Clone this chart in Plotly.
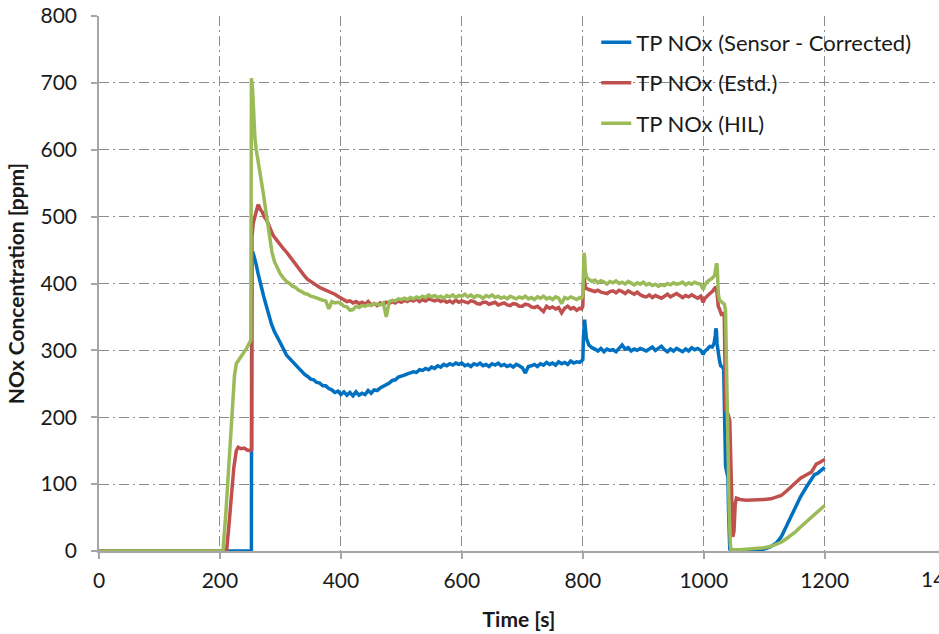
import plotly.graph_objects as go

# ---- measured tailpipe NOx traces: (time [s], NOx [ppm]) ----
# steady-state stretch sampled every 5 s from 300 s to 795 s
MID_T = list(range(300, 800, 5))

SENSOR_START = [(0, 0), (252, 0), (252.5, 440), (254, 448), (256, 442), (258, 436), (260, 428),
                (263, 415), (266, 402), (269, 393), (272, 382), (275, 372), (278, 362), (281, 352),
                (285, 340), (290, 328), (295, 318)]
SENSOR_MID = [311, 302, 293, 288, 283, 279, 273, 269, 264, 261,
              257, 256, 252, 251, 247, 247, 243, 241, 237, 239,
              234, 238, 233, 237, 232, 238, 233, 236, 234, 240,
              236, 241, 240, 244, 246, 249, 251, 255, 256, 260,
              261, 263, 265, 266, 268, 267, 271, 270, 273, 271,
              275, 273, 277, 275, 279, 277, 280, 278, 281, 279,
              281, 277, 279, 276, 280, 278, 281, 277, 279, 276,
              280, 278, 281, 277, 279, 276, 278, 275, 279, 277,
              274, 266, 276, 277, 279, 276, 280, 278, 282, 279,
              281, 278, 283, 280, 282, 279, 284, 281, 283, 282]
SENSOR_END = [(798, 284), (800, 286), (801, 318), (802, 338), (803, 346), (804, 336), (806, 318),
              (810, 308), (815, 304), (820, 302), (825, 299), (830, 303), (835, 298), (840, 302),
              (845, 300), (850, 301), (855, 298), (860, 303), (865, 308), (870, 302), (875, 304),
              (880, 299), (885, 302), (890, 300), (895, 303), (900, 301), (905, 299), (910, 302),
              (915, 305), (920, 300), (925, 303), (930, 306), (935, 301), (940, 298), (945, 302),
              (950, 299), (955, 303), (960, 300), (965, 298), (970, 302), (975, 299), (980, 304),
              (985, 301), (990, 303), (995, 300), (999, 294), (1002, 299), (1006, 302), (1010, 306),
              (1014, 305), (1017, 310), (1019, 322), (1020, 333), (1021, 329), (1022, 310),
              (1024, 291), (1026, 285), (1028, 277), (1031, 275), (1033, 272), (1034, 225),
              (1035, 170), (1036, 128), (1038, 118), (1040, 110), (1041, 60), (1042, 20), (1043, 3),
              (1045, 0), (1080, 0), (1090, 1), (1100, 3), (1110, 6), (1120, 12), (1128, 21),
              (1136, 36), (1144, 51), (1152, 66), (1160, 81), (1170, 96), (1178, 106), (1183, 114),
              (1188, 116), (1194, 121), (1200, 125)]

ESTD_START = [(0, 0), (211, 0), (215, 40), (219, 91), (223, 125), (227, 150), (230, 155), (235, 153),
              (240, 154), (245, 151), (250, 150), (252.5, 152), (253, 470), (255, 490), (258, 500),
              (261, 512), (263, 518), (265, 515), (267, 510), (270, 507), (273, 500), (277, 495),
              (280, 488), (284, 479), (288, 472), (292, 467), (296, 462)]
ESTD_MID = [458, 452, 447, 441, 434, 428, 421, 416, 411, 406,
            403, 399, 397, 394, 392, 390, 389, 386, 384, 381,
            378, 375, 373, 374, 371, 373, 370, 372, 369, 373,
            368, 370, 367, 371, 369, 372, 370, 373, 371, 374,
            372, 375, 373, 376, 374, 377, 373, 376, 374, 377,
            375, 374, 376, 373, 375, 372, 374, 371, 375, 372,
            374, 372, 371, 374, 373, 370, 369, 372, 372, 369,
            370, 372, 368, 370, 371, 368, 367, 370, 369, 366,
            366, 369, 368, 365, 364, 366, 362, 358, 366, 363,
            365, 362, 364, 356, 363, 366, 362, 364, 360, 363]
ESTD_END = [(798, 362), (800, 366), (801, 398), (802, 410), (803, 402), (805, 393), (810, 391),
            (815, 390), (820, 388), (825, 390), (830, 387), (835, 386), (840, 385), (845, 388),
            (850, 389), (855, 386), (860, 390), (865, 388), (870, 385), (875, 389), (880, 386),
            (885, 384), (890, 387), (895, 383), (900, 381), (905, 380), (910, 383), (915, 379),
            (920, 382), (925, 380), (930, 378), (935, 381), (940, 384), (945, 380), (950, 383),
            (955, 385), (960, 382), (965, 379), (970, 382), (975, 380), (980, 383), (985, 380),
            (990, 378), (995, 381), (999, 372), (1002, 378), (1006, 382), (1010, 385), (1014, 388),
            (1018, 392), (1020, 395), (1022, 385), (1024, 366), (1026, 362), (1029, 354),
            (1032, 355), (1034, 350), (1035, 280), (1036, 212), (1038, 208), (1040, 205),
            (1043, 195), (1045, 110), (1047, 40), (1048, 21), (1050, 30), (1052, 70), (1054, 79),
            (1060, 77), (1070, 76), (1080, 76), (1090, 77), (1100, 77), (1111, 78), (1120, 80),
            (1128, 83), (1136, 89), (1144, 96), (1152, 103), (1160, 109), (1170, 114), (1178, 118),
            (1182, 124), (1186, 130), (1193, 133), (1200, 137)]

HIL_START = [(0, 0), (205, 0), (210, 60), (215, 140), (220, 200), (224, 262), (227, 280), (232, 288),
             (238, 295), (244, 303), (249, 310), (251, 315), (252, 707), (253, 700), (254, 690),
             (255, 670), (256, 645), (257, 628), (258, 615), (260, 600), (262, 590), (264, 578),
             (266, 568), (268, 556), (270, 545), (272, 533), (274, 520), (276, 508), (278, 495),
             (280, 482), (283, 463), (286, 447), (290, 433), (294, 425), (298, 417)]
HIL_MID = [414, 408, 403, 400, 396, 394, 390, 388, 385, 384,
           381, 380, 378, 377, 375, 374, 362, 373, 371, 372,
           370, 366, 365, 360, 361, 366, 364, 367, 366, 368,
           367, 370, 369, 368, 371, 350, 373, 375, 374, 377,
           376, 378, 376, 379, 377, 380, 378, 381, 379, 383,
           380, 382, 379, 381, 378, 382, 380, 383, 379, 382,
           381, 384, 380, 383, 379, 382, 381, 378, 382, 380,
           383, 379, 381, 378, 380, 377, 381, 379, 377, 380,
           378, 381, 377, 379, 376, 380, 378, 381, 377, 379,
           376, 380, 378, 370, 379, 377, 380, 378, 376, 379]
HIL_END = [(798, 378), (800, 381), (801, 425), (802, 446), (803, 440), (804, 420), (806, 410),
           (810, 406), (815, 403), (820, 405), (825, 401), (830, 404), (835, 402), (840, 399),
           (845, 403), (850, 401), (855, 404), (860, 400), (865, 402), (870, 399), (875, 403),
           (880, 400), (885, 398), (890, 401), (895, 399), (900, 402), (905, 398), (910, 400),
           (915, 397), (920, 399), (925, 396), (930, 398), (935, 397), (940, 400), (945, 398),
           (950, 401), (955, 399), (960, 400), (965, 402), (970, 398), (975, 401), (980, 399),
           (985, 402), (990, 400), (995, 399), (999, 391), (1002, 398), (1006, 403), (1010, 405),
           (1014, 408), (1018, 412), (1020, 422), (1021, 430), (1022, 428), (1023, 410),
           (1024, 385), (1026, 375), (1030, 372), (1034, 369), (1036, 360), (1038, 250),
           (1040, 150), (1042, 60), (1044, 10), (1045, 2), (1060, 2), (1080, 3), (1100, 5),
           (1111, 7), (1120, 10), (1128, 13), (1136, 18), (1144, 23), (1152, 29), (1160, 36),
           (1170, 44), (1178, 51), (1186, 57), (1194, 63), (1200, 68)]

SERIES = [
    ("TP NOx (Sensor - Corrected)", "#0070C0", SENSOR_START, SENSOR_MID, SENSOR_END),
    ("TP NOx (Estd.)", "#C0504D", ESTD_START, ESTD_MID, ESTD_END),
    ("TP NOx (HIL)", "#9BBB59", HIL_START, HIL_MID, HIL_END),
]

X_TICKS = [0, 200, 400, 600, 800, 1000, 1200, 1400]
Y_TICKS = [0, 100, 200, 300, 400, 500, 600, 700, 800]

FONT = "Lato"
TEXT = "#1a1a1a"
AXIS_GREY = "#A6A6A6"
GRID_GREY = "#8C8C8C"

fig = go.Figure()
for i, (name, color, start, mid, end) in enumerate(SERIES):
    pts = list(start) + list(zip(MID_T, mid)) + list(end)
    fig.add_trace(go.Scatter(
        x=[p[0] for p in pts], y=[p[1] for p in pts],
        mode="lines", name=name, legendgroup=f"g{i}",
        line=dict(color=color, width=3.5),
    ))

axis_common = dict(
    showgrid=True, gridcolor=GRID_GREY, gridwidth=1, griddash="10px,4px,2px,4px",
    showline=True, linecolor=AXIS_GREY, linewidth=1.5,
    ticks="outside", ticklen=6, tickcolor=AXIS_GREY, tickwidth=1.5,
    zeroline=False, tickfont=dict(family=FONT, size=21, color=TEXT),
    automargin=False,
)

fig.update_layout(
    width=939, height=634,
    margin=dict(l=99, r=0, t=16, b=83),
    paper_bgcolor="white", plot_bgcolor="white",
    font=dict(family=FONT, color=TEXT),
    xaxis=dict(range=[0, 1389], tickvals=X_TICKS, ticklabelstandoff=4,
               title=dict(text="<b>Time [s]</b>", font=dict(family=FONT, size=21, color=TEXT),
                          standoff=21),
               **axis_common),
    yaxis=dict(range=[0, 800], tickvals=Y_TICKS, ticklabelstandoff=10,
               title=dict(text="<b>NOx Concentration [ppm]</b>",
                          font=dict(family=FONT, size=21, color=TEXT), standoff=10),
               **axis_common),
    legend=dict(x=0.592, y=0.99, xanchor="left", yanchor="top",
                bgcolor="rgba(0,0,0,0)", font=dict(family=FONT, size=22, color=TEXT),
                traceorder="grouped", tracegroupgap=9, itemwidth=30),
    showlegend=True,
)

# last x tick sits just past the right edge of the plot area
fig.add_annotation(
    text="1400", xref="paper", yref="paper",
    x=(1400 - 0) / 1389, y=0, yshift=-27, xanchor="center", yanchor="middle",
    showarrow=False, font=dict(family=FONT, size=21, color=TEXT),
)

fig.write_html("out.html")
